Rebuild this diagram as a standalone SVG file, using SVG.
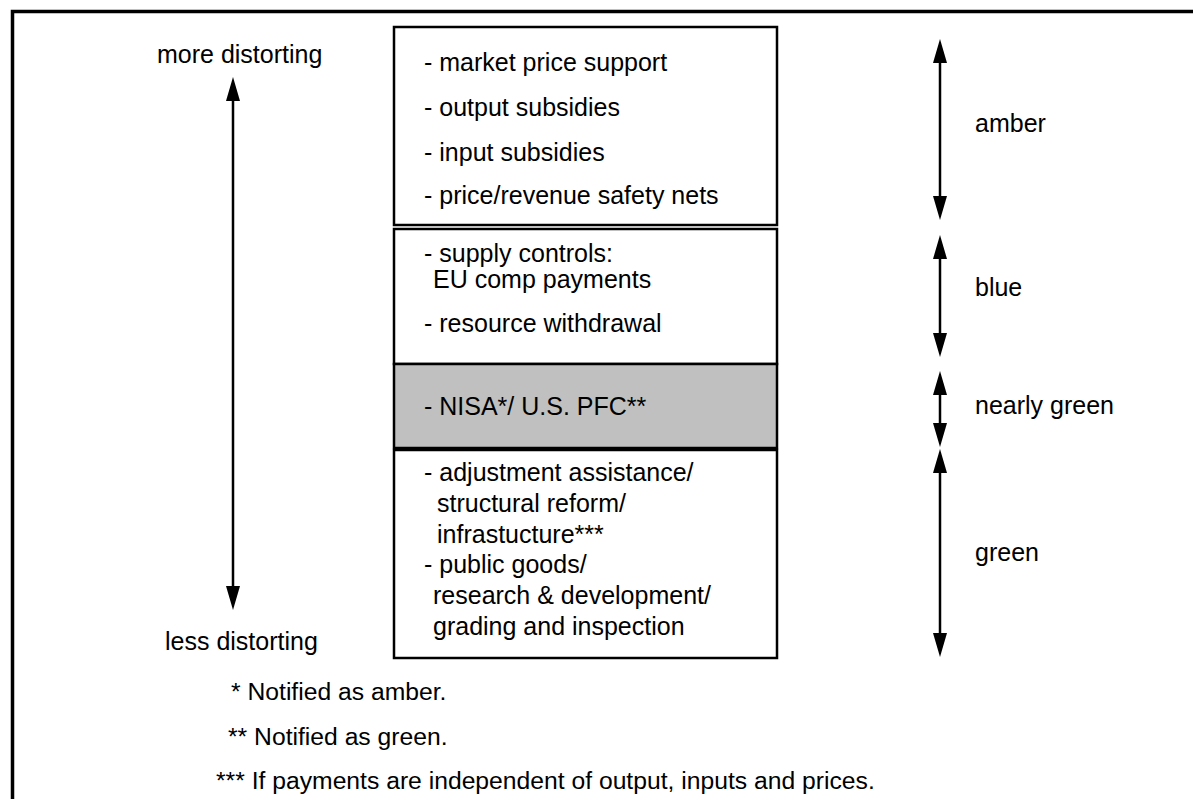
<svg xmlns="http://www.w3.org/2000/svg" width="1193" height="799" viewBox="0 0 1193 799">
  <defs>
    <style>
      .t { font-family: "Liberation Sans", Arial, sans-serif; font-size: 25px; fill: #000; }
      .fn { font-family: "Liberation Sans", Arial, sans-serif; font-size: 24.7px; fill: #000; }
      .box { stroke: #000; stroke-width: 2.5; }
      .conn { stroke: #000; stroke-width: 2.5; fill: none; marker-start: url(#ah); marker-end: url(#ah); }
    </style>
    <marker id="ah" markerUnits="userSpaceOnUse" markerWidth="24" markerHeight="14" viewBox="0 0 24 14" refX="0" refY="7" orient="auto-start-reverse">
      <path d="M0,0 L24,7 L0,14 z" fill="#000"/>
    </marker>
  </defs>
  <rect width="1193" height="799" fill="#fff"/>
  <!-- frame -->
  <path d="M12.5,799 L12.5,11.5 L1193,11.5" fill="none" stroke="#000" stroke-width="3.5"/>

  <g id="node-amber">
    <rect class="box" x="394" y="27" width="383" height="198" fill="#fff"/>
    <text class="t" x="424" y="71">- market price support</text>
    <text class="t" x="424" y="116">- output subsidies</text>
    <text class="t" x="424" y="161">- input subsidies</text>
    <text class="t" x="424" y="204">- price/revenue safety nets</text>
  </g>
  <g id="node-blue">
    <rect class="box" x="394" y="229" width="383" height="135" fill="#fff"/>
    <text class="t" x="424" y="262">- supply controls:</text>
    <text class="t" x="433" y="288">EU comp payments</text>
    <text class="t" x="424" y="332">- resource withdrawal</text>
  </g>
  <g id="node-nearly-green">
    <rect class="box" x="394" y="364" width="383" height="84" fill="#c0c0c0"/>
    <text class="t" x="424" y="415">- NISA*/ U.S. PFC**</text>
  </g>
  <g id="node-green">
    <rect class="box" x="394" y="450" width="383" height="208" fill="#fff"/>
    <text class="t" x="424" y="481">- adjustment assistance/</text>
    <text class="t" x="437" y="512">structural reform/</text>
    <text class="t" x="437" y="543">infrastucture***</text>
    <text class="t" x="424" y="573">- public goods/</text>
    <text class="t" x="433" y="604">research &amp; development/</text>
    <text class="t" x="433" y="635">grading and inspection</text>
  </g>

  <g id="label-more"><text class="t" x="157" y="63">more distorting</text></g>
  <g id="label-less"><text class="t" x="165" y="650">less distorting</text></g>
  <g id="label-amber"><text class="t" x="975" y="132">amber</text></g>
  <g id="label-blue"><text class="t" x="975" y="296">blue</text></g>
  <g id="label-nearly-green"><text class="t" x="975" y="414">nearly green</text></g>
  <g id="label-green"><text class="t" x="975" y="561">green</text></g>

  <g id="connectors">
    <line class="conn" x1="233" y1="101" x2="233" y2="586"/>
    <line class="conn" x1="940" y1="63" x2="940" y2="196"/>
    <line class="conn" x1="940" y1="259" x2="940" y2="333"/>
    <line class="conn" x1="940" y1="395" x2="940" y2="423"/>
    <line class="conn" x1="940" y1="473" x2="940" y2="633"/>
  </g>

  <g id="footnotes">
    <text class="fn" x="231" y="700">* Notified as amber.</text>
    <text class="fn" x="228" y="745">** Notified as green.</text>
    <text class="fn" x="216" y="789">*** If payments are independent of output, inputs and prices.</text>
  </g>
</svg>
